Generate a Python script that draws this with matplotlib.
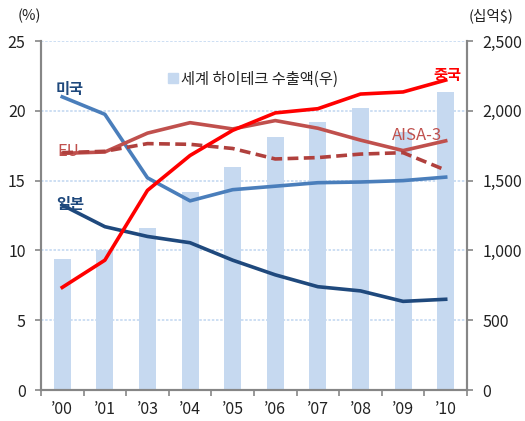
import numpy as np
import matplotlib
matplotlib.use("Agg")
import matplotlib.pyplot as plt
from matplotlib.patches import Patch

plt.rcParams['font.family'] = ['Noto Sans CJK KR', 'DejaVu Sans']

years = ["’00", "’01", "’03", "’04", "’05", "’06", "’07", "’08", "’09", "’10"]
exports = [936, 1000, 1160, 1418, 1597, 1812, 1920, 2020, 1850, 2135]   # 십억$ (right axis)
usa = [21.0, 19.75, 15.2, 13.55, 14.35, 14.6, 14.85, 14.9, 15.0, 15.25]
japan = [13.25, 11.7, 11.0, 10.55, 9.3, 8.25, 7.4, 7.1, 6.35, 6.5]
china = [7.35, 9.3, 14.3, 16.8, 18.6, 19.85, 20.15, 21.2, 21.35, 22.2]
eu = [16.95, 17.05, 18.4, 19.15, 18.7, 19.3, 18.75, 17.9, 17.15, 17.85]
asia3 = [17.0, 17.1, 17.65, 17.6, 17.3, 16.55, 16.65, 16.9, 17.0, 15.75]

C_BAR = "#C6D9F0"
C_US = "#4A7EBB"
C_JP = "#1F497D"
C_CN = "#FF0000"
C_EU = "#C0504D"
C_AX = "#868686"

fig = plt.figure(figsize=(5.25, 4.21), dpi=100)
ax = fig.add_axes([0.078, 0.0736, 0.8115, 0.829])
ax2 = ax.twinx()
ax.set_zorder(ax2.get_zorder() + 1)
ax.patch.set_visible(False)

x = np.arange(len(years))

# bars on right axis
ax2.bar(x, exports, width=0.4, color=C_BAR, zorder=2)
ax2.set_ylim(0, 2500)
ax2.set_yticks(np.arange(0, 2501, 500))
ax2.set_yticklabels([f"{v:,}" for v in range(0, 2501, 500)])
for v in range(500, 2501, 500):
    ax2.axhline(v, color="#C5D9F1", lw=1.2, ls=(0, (1.5, 1)), zorder=1)

# lines on left axis
lw = 2.6
ax.plot(x, usa, color=C_US, lw=lw, zorder=3)
ax.plot(x, japan, color=C_JP, lw=lw, zorder=3)
ax.plot(x, eu, color=C_EU, lw=lw, zorder=3)
ax.plot(x, asia3, color="#B0403D", lw=lw, ls=(0, (3, 1.5)), zorder=3)
ax.plot(x, china, color=C_CN, lw=lw, zorder=4)

ax.set_ylim(0, 25)
ax.set_xlim(-0.5, len(years) - 0.5)
ax.set_yticks(np.arange(0, 26, 5))
ax.set_xticks(x)
ax.set_xticklabels(years)
ax.set_xticks(np.arange(-0.5, len(years)), minor=True)
ax.tick_params(axis="x", which="major", length=0, pad=8, labelsize=11.5, colors="#222222")
ax.tick_params(axis="x", which="minor", length=4, direction="out", color=C_AX, width=1.2)
ax.tick_params(axis="y", length=4, direction="out", color=C_AX, width=1.2, labelsize=11.5,
               labelcolor="#222222", pad=7)
ax2.tick_params(axis="y", length=4, direction="out", color=C_AX, width=1.2, labelsize=11.5,
                labelcolor="#222222", pad=7)

for a in (ax, ax2):
    a.spines["top"].set_visible(False)
    for s in ("left", "right", "bottom"):
        a.spines[s].set_color(C_AX)
        a.spines[s].set_linewidth(1.5)

# series labels
ax.text(-0.15, 21.2, "미국", color=C_JP, fontsize=11, fontweight="bold", zorder=2)
ax.text(-0.12, 16.75, "EU", color=C_EU, fontsize=12, zorder=2)
ax.text(-0.15, 13.0, "일본", color=C_JP, fontsize=11, fontweight="bold", zorder=2)
ax.text(8.72, 22.2, "중국", color=C_CN, fontsize=11, fontweight="bold", zorder=2)
ax.text(7.75, 17.9, "AISA-3", color=C_EU, fontsize=12, zorder=2)

# axis unit labels
fig.text(0.033, 0.953, "(%)", fontsize=10.5, color="#222222")
fig.text(0.893, 0.953, "(십억$)", fontsize=10.5, color="#222222")

leg = ax.legend(handles=[Patch(color=C_BAR, label="세계 하이테크 수출액(우)")],
                loc="upper left", bbox_to_anchor=(0.265, 0.955), frameon=False,
                handlelength=0.7, handleheight=0.7, handletextpad=0.2, fontsize=11)
for t in leg.get_texts():
    t.set_color("#222222")

fig.savefig("out.png", dpi=100)
